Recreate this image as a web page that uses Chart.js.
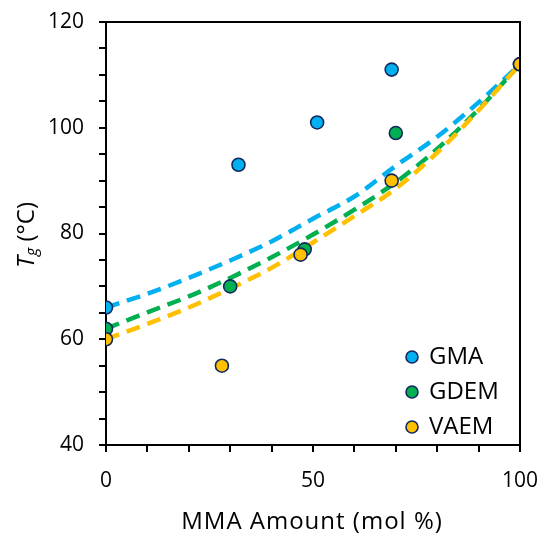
<!DOCTYPE html>
<html>
<head>
<meta charset="utf-8">
<script src="https://cdn.jsdelivr.net/npm/chart.js@4.4.1/dist/chart.umd.min.js"></script>
<style>
  html, body { margin: 0; padding: 0; background: #fff; }
  #wrap { width: 542px; height: 535px; }
</style>
</head>
<body>
<div id="wrap"><canvas id="chart" width="542" height="535"></canvas></div>
<script>
// ---- data ----
const fitX    = [0, 10, 20, 30, 40, 50, 60, 70, 80, 90, 100];
const gmaFit  = [66, 68.6, 71.6, 74.9, 78.5, 82.8, 87.0, 92.8, 98.3, 104.8, 112];
const gdemFit = [62, 65.1, 68.1, 71.6, 75.5, 79.8, 84.5, 89.7, 96.0, 103.5, 112];
const vaemFit = [60, 62.9, 66.0, 69.6, 73.5, 78.3, 83.3, 88.5, 95.3, 103.3, 112];

const gmaX  = [0, 32, 51, 69, 100];
const gmaY  = [66, 93, 101, 111, 112];
const gdemX = [0, 30, 48, 70, 100];
const gdemY = [62, 70, 77, 99, 112];
const vaemX = [0, 28, 47, 69, 100];
const vaemY = [60, 55, 76, 90, 112];

const xLabels = [0, 50, 100];
const yLabels = [40, 60, 80, 100, 120];

const BLUE = '#00B0F0', GREEN = '#00B050', YELLOW = '#FFC000', EDGE = '#12295e';
const FONT = '"Open Sans", sans-serif';

const pts = (xs, ys) => xs.map((x, i) => ({ x, y: ys[i] }));

const fitSet = (data, color, order) => ({
  data: pts(fitX, data), showLine: true, pointRadius: 0, borderColor: color,
  borderWidth: 4.5, borderDash: [14, 8], cubicInterpolationMode: 'monotone',
  fill: false, order
});
const markerSet = (label, xs, ys, color, order) => ({
  label, data: pts(xs, ys), showLine: false, pointRadius: 6.5, pointHoverRadius: 6.5,
  backgroundColor: color, borderColor: EDGE, borderWidth: 1.6, order
});

const markers = [
  markerSet('GMA',  gmaX,  gmaY,  BLUE,   3),
  markerSet('GDEM', gdemX, gdemY, GREEN,  2),
  markerSet('VAEM', vaemX, vaemY, YELLOW, 1)
];

// titles, legend and the box around the plot
const decor = {
  id: 'decor',
  afterDraw(chart) {
    const { ctx, chartArea: a } = chart;
    ctx.save();
    ctx.strokeStyle = '#000';
    ctx.lineWidth = 2;
    ctx.beginPath();
    ctx.moveTo(a.left, a.top); ctx.lineTo(a.right, a.top); ctx.lineTo(a.right, a.bottom);
    ctx.stroke();

    ctx.fillStyle = '#000';
    ctx.textBaseline = 'middle';
    ctx.textAlign = 'center';
    ctx.font = `24px ${FONT}`;
    ctx.letterSpacing = '1px';
    ctx.fillText('MMA Amount (mol %)', 312, 522);
    ctx.letterSpacing = '0px';

    // y title: T_g (°C), rotated
    ctx.translate(27, 235);
    ctx.rotate(-Math.PI / 2);
    const parts = [
      { t: 'T', f: `italic 24px ${FONT}`, dy: 0 },
      { t: 'g', f: `italic 16px ${FONT}`, dy: 5 },
      { t: ' (°C)', f: `24px ${FONT}`, dy: 0 }
    ];
    let total = 0;
    parts.forEach(p => { ctx.font = p.f; p.w = ctx.measureText(p.t).width; total += p.w; });
    let x = -total / 2;
    ctx.textAlign = 'left';
    parts.forEach(p => { ctx.font = p.f; ctx.fillText(p.t, x, p.dy); x += p.w; });
    ctx.restore();

    // legend
    ctx.save();
    ctx.font = `24px ${FONT}`;
    ctx.textBaseline = 'middle';
    markers.forEach((d, i) => {
      const y = 357 + i * 35;
      ctx.beginPath();
      ctx.arc(412, y, 6, 0, Math.PI * 2);
      ctx.fillStyle = d.backgroundColor;
      ctx.fill();
      ctx.lineWidth = 1.6;
      ctx.strokeStyle = EDGE;
      ctx.stroke();
      ctx.fillStyle = '#000';
      ctx.fillText(d.label, 429, y);
    });
    ctx.restore();
  }
};

new Chart(document.getElementById('chart'), {
  type: 'scatter',
  data: {
    datasets: [
      ...markers,
      fitSet(vaemFit, YELLOW, 4),
      fitSet(gdemFit, GREEN, 5),
      fitSet(gmaFit, BLUE, 6)
    ]
  },
  options: {
    responsive: false,
    animation: false,
    layout: { autoPadding: false, padding: { left: 0, right: 22, top: 22, bottom: 0 } },
    plugins: { legend: { display: false }, tooltip: { enabled: false } },
    scales: {
      x: {
        type: 'linear', min: 0, max: 100,
        afterFit: s => { s.height = 90; s.paddingLeft = 0; s.paddingRight = 0; },
        ticks: {
          stepSize: 10, autoSkip: false, maxRotation: 0, padding: 16,
          color: '#000', font: { family: FONT, size: 21 },
          callback: v => xLabels.includes(v) ? String(v) : ''
        },
        grid: { drawOnChartArea: false, drawTicks: true, tickLength: 7, color: '#000', lineWidth: 2 },
        border: { color: '#000', width: 2 }
      },
      y: {
        type: 'linear', min: 40, max: 120,
        afterFit: s => { s.width = 106; s.paddingTop = 0; s.paddingBottom = 0; },
        ticks: {
          stepSize: 5, autoSkip: false, padding: 15,
          color: '#000', font: { family: FONT, size: 21 },
          callback: v => yLabels.includes(v) ? String(v) : ''
        },
        grid: { drawOnChartArea: false, drawTicks: true, tickLength: 7, color: '#000', lineWidth: 2 },
        border: { color: '#000', width: 2 }
      }
    }
  },
  plugins: [decor]
});
</script>
</body>
</html>
